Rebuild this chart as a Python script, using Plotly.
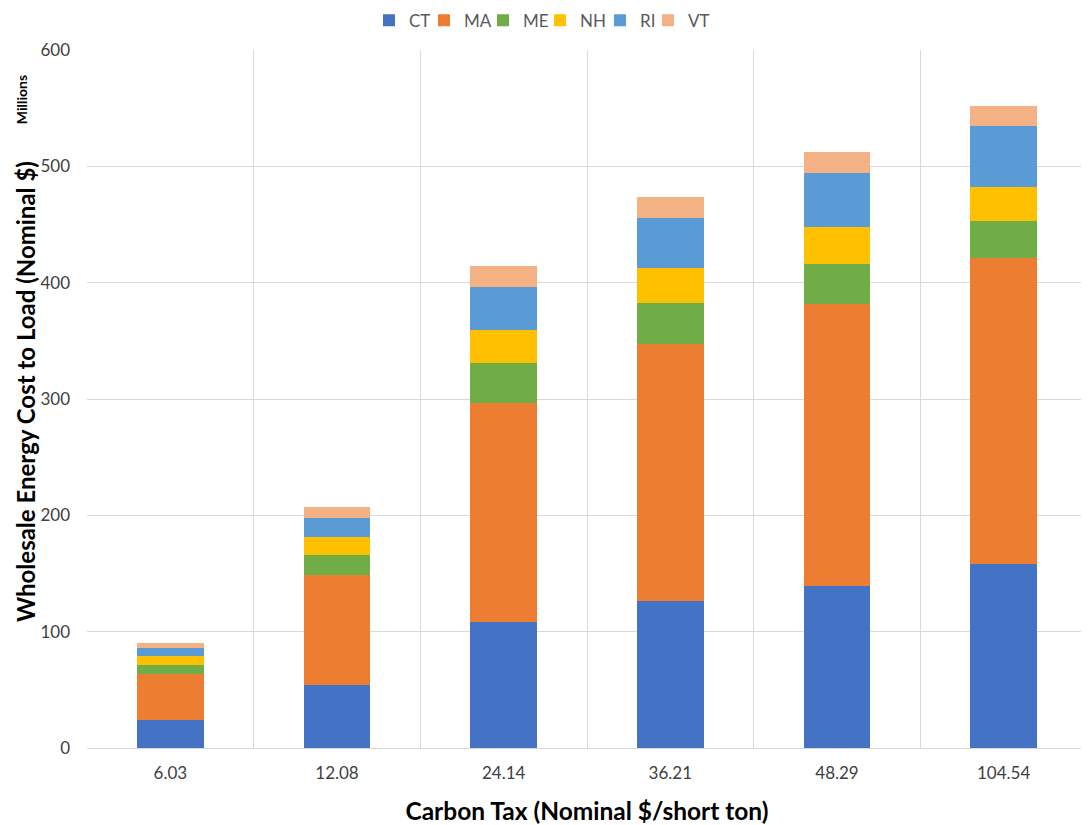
import plotly.graph_objects as go

categories = ["6.03", "12.08", "24.14", "36.21", "48.29", "104.54"]
CT = [23.9, 54.2, 108.0, 126.1, 139.1, 158.0]
MA = [39.5, 94.5, 188.8, 221.5, 242.4, 262.9]
ME = [7.8, 16.8, 33.9, 34.9, 34.9, 32.5]
NH = [7.9, 15.7, 28.9, 30.1, 31.3, 28.9]
RI = [6.9, 16.5, 36.4, 43.3, 46.9, 52.0]
VT = [4.3, 9.1, 18.0, 18.0, 18.0, 17.4]

series = [("CT", CT, "#4472C4"), ("MA", MA, "#ED7D31"), ("ME", ME, "#70AD47"),
          ("NH", NH, "#FFC000"), ("RI", RI, "#5B9BD5"), ("VT", VT, "#F4B183")]
legend_x = [0.282, 0.337, 0.396, 0.453, 0.513, 0.561]

xpos = list(range(len(categories)))
FONT = "Lato"

fig = go.Figure()
legend_layouts = {}
for i, (name, vals, col) in enumerate(series):
    lg = f"legend{i + 2}"
    fig.add_trace(go.Bar(x=xpos, y=vals, name=name, width=0.4, legend=lg,
                         marker=dict(color=col, line=dict(width=0))))
    legend_layouts[lg] = dict(orientation="h", x=legend_x[i], xanchor="left",
                              y=1.042, yanchor="middle", itemwidth=30,
                              font=dict(size=17, color="#595959"),
                              bgcolor="rgba(0,0,0,0)", borderwidth=0)

fig.update_layout(
    barmode="stack",
    width=1081, height=817,
    margin=dict(l=79, r=2, t=42, b=77, autoexpand=False),
    paper_bgcolor="white", plot_bgcolor="white",
    font=dict(family=FONT, color="#595959", size=15),
    xaxis=dict(range=[-0.5, 5.5], tickvals=xpos, ticktext=categories,
               showgrid=False, zeroline=False, ticks="",
               showline=True, linecolor="#D9D9D9", linewidth=1,
               minor=dict(tickvals=[-0.5, 0.5, 1.5, 2.5, 3.5, 4.5], showgrid=True,
                          gridcolor="#D9D9D9", gridwidth=1, ticks=""),
               tickfont=dict(size=17, color="#404040"), ticklabelstandoff=10,
               title=dict(text="<b>Carbon Tax (Nominal $/short ton)</b>",
                          font=dict(size=24.5, color="#000000"), standoff=22)),
    yaxis=dict(range=[0, 600], dtick=100, showgrid=True, gridcolor="#D9D9D9",
               gridwidth=1, zeroline=False, ticks="", showline=False,
               tickfont=dict(size=17, color="#404040"), ticklabelstandoff=16),
    **legend_layouts,
)

fig.add_annotation(text="<b>Wholesale Energy Cost to Load (Nominal $)</b>",
                   xref="paper", yref="paper", x=-0.062, y=0.51, textangle=-90,
                   xanchor="center", yanchor="middle",
                   showarrow=False, font=dict(size=24, color="#000000", family=FONT))
fig.add_annotation(text="<b>Millions</b>", xref="paper", yref="paper",
                   x=-0.066, y=0.928, textangle=-90, xanchor="center", yanchor="middle",
                   showarrow=False, font=dict(size=14, color="#000000", family=FONT))

fig.write_html("out.html")
